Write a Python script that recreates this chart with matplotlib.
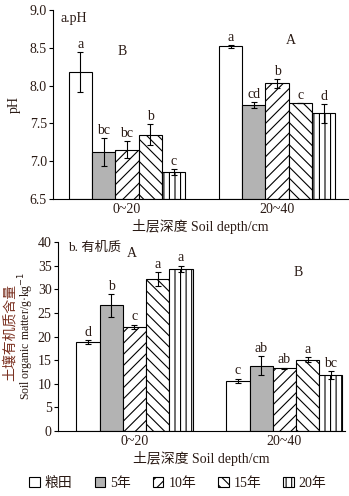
import matplotlib
matplotlib.use("Agg")
import matplotlib.pyplot as plt
import numpy as np
from matplotlib.patches import Patch

plt.rcParams['font.family'] = ['Liberation Serif', 'Noto Sans CJK SC']
plt.rcParams['hatch.linewidth'] = 0.8

depths = ["0~20", "20~40"]
treatments = ["粮田", "5年", "10年", "15年", "20年"]

ph_mean = [[8.18, 7.12, 7.15, 7.35, 6.85],
           [8.52, 7.74, 8.03, 7.77, 7.63]]
ph_err = [[0.26, 0.19, 0.11, 0.14, 0.04],
          [0.02, 0.04, 0.06, 0.00, 0.12]]
ph_letters = [["a", "bc", "bc", "b", "c"],
              ["a", "cd", "b", "c", "d"]]
ph_group = ["B", "A"]

om_mean = [[18.8, 26.6, 22.1, 32.1, 34.3],
           [10.6, 13.8, 13.3, 15.1, 11.9]]
om_err = [[0.4, 2.4, 0.4, 1.5, 0.7],
          [0.5, 2.0, 0.1, 0.5, 0.8]]
om_letters = [["d", "b", "c", "a", "a"],
              ["c", "ab", "ab", "a", "bc"]]
om_group = ["A", "B"]

faces = ["white", "#b3b3b3", "white", "white", "white"]
hatches = [None, None, "///", "\\\\\\", "|||"]

txt = "#2a1a14"
red = "#7a3020"
FS = 10

fig = plt.figure(figsize=(3.49, 4.96), dpi=100)

W = 0.155

def draw(ax, means, errs, letters, groups, ylim, ystep, xlim, letoff, grouppos, fmt):
    for g in range(2):
        for i in range(5):
            x = g + (i - 2) * W
            ax.bar(x, means[g][i] - ylim[0], bottom=ylim[0], width=W,
                   color=faces[i], edgecolor="black", linewidth=0.8,
                   hatch=hatches[i], zorder=2)
            ax.errorbar(x, means[g][i], yerr=errs[g][i], color="black",
                        capsize=2.5, elinewidth=0.8, capthick=0.8, zorder=3)
            ax.text(x, means[g][i] + errs[g][i] + letoff, letters[g][i],
                    ha="center", va="bottom", fontsize=FS, color=txt)
        ax.text(grouppos[g][0], grouppos[g][1], groups[g], ha="center",
                va="center", fontsize=FS, color=txt)
    ax.set_ylim(*ylim)
    ax.set_xlim(*xlim)
    ticks = np.arange(ylim[0], ylim[1] + 1e-9, ystep)
    ax.set_yticks(ticks)
    ax.set_yticklabels([fmt.format(v) for v in ticks])
    ax.set_xticks([0, 1])
    ax.set_xticklabels(depths)
    ax.spines["top"].set_visible(False)
    ax.spines["right"].set_visible(False)
    ax.spines["left"].set_linewidth(0.8)
    ax.spines["bottom"].set_linewidth(0.8)
    ax.tick_params(axis="y", direction="out", length=3, width=0.8, labelsize=FS,
                   labelcolor=txt, pad=1.5)
    ax.tick_params(axis="x", length=0, labelsize=FS, labelcolor=txt, pad=3)
    ax.set_xlabel("土层深度 Soil depth/cm", fontsize=FS, color=txt, labelpad=2)

ax1 = fig.add_axes([0.152, 0.599, 0.845, 0.381])
draw(ax1, ph_mean, ph_err, ph_letters, ph_group, (6.5, 9.0), 0.5,
     (-0.493, 1.473), 0.015, [(-0.03, 8.45), (1.09, 8.6)], "{:.1f}")
ax1.set_ylabel("pH", fontsize=FS, color=txt, labelpad=6)
ax1.text(0.025, 0.99, "a.pH", transform=ax1.transAxes, ha="left", va="top",
         fontsize=FS, color=txt)

ax2 = fig.add_axes([0.166, 0.131, 0.822, 0.381])
draw(ax2, om_mean, om_err, om_letters, om_group, (0, 40), 5,
     (-0.51, 1.403), 0.3, [(-0.02, 37.6), (1.09, 33.5)], "{:.0f}")
ax2.text(0.035, 1.0, "b. 有机质", transform=ax2.transAxes, ha="left", va="top",
         fontsize=9.5, color=txt)
fig.text(0.027, 0.33, "土壤有机质含量", rotation=90, ha="center", va="center",
         fontsize=10, color=red)
fig.text(0.076, 0.322, "Soil organic matter/g·kg$^{-1}$", rotation=90,
         ha="center", va="center", fontsize=8.5, color=txt)

handles = [Patch(facecolor=faces[i], edgecolor="black", linewidth=0.8,
                 hatch=hatches[i]) for i in range(5)]
fig.legend(handles, treatments, loc="center", bbox_to_anchor=(0.51, 0.026),
           ncol=5, frameon=False, fontsize=FS, handlelength=0.75,
           handleheight=0.75, handletextpad=0.35, columnspacing=1.6,
           labelcolor=txt)

fig.savefig("out.png", dpi=100)
